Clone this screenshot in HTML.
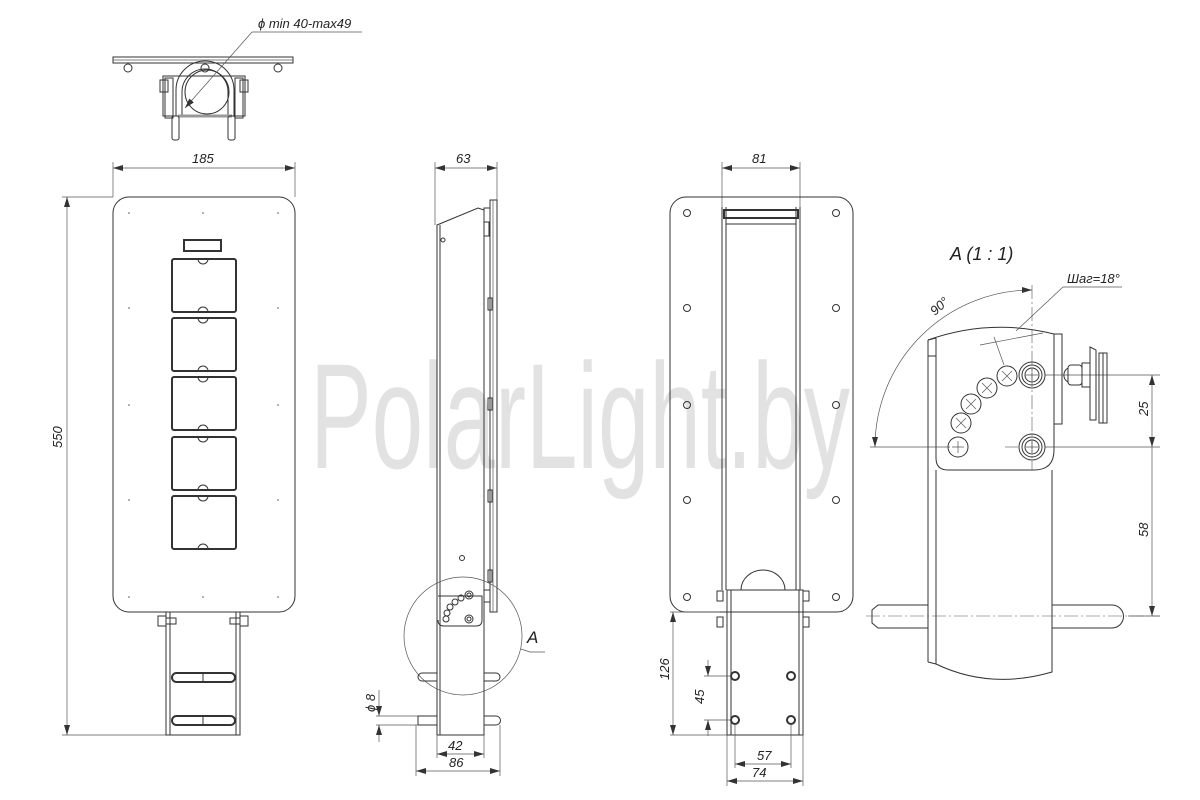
<!DOCTYPE html>
<html><head><meta charset="utf-8"><style>
html,body{margin:0;padding:0;background:#fff;}
svg{display:block;}
text{font-family:"Liberation Sans","DejaVu Sans",sans-serif;font-style:italic;fill:#222;}
.o{fill:none;stroke:#333;stroke-width:1;}
.t{fill:none;stroke:#333;stroke-width:2;}
.d{fill:none;stroke:#555;stroke-width:0.7;}
.c{fill:none;stroke:#555;stroke-width:0.6;stroke-dasharray:14 3 2 3;}
</style></head><body>
<svg width="1200" height="800" viewBox="0 0 1200 800" xmlns="http://www.w3.org/2000/svg">
<defs>
<marker id="a" viewBox="0 0 10 6" refX="10" refY="3" markerWidth="10" markerHeight="6" orient="auto-start-reverse" markerUnits="userSpaceOnUse"><path d="M0,0 L10,3 L0,6 z" fill="#333"/></marker>
</defs>

<!-- watermark -->
<text x="310" y="468" font-size="150" textLength="540" lengthAdjust="spacingAndGlyphs" style="font-style:normal;fill:#e2e2e2">PolarLight.by</text>

<!-- TOP VIEW -->
<g>
<rect x="113" y="57" width="180" height="6" class="o"/>
<line x1="113" y1="60" x2="293" y2="60" class="d"/>
<circle cx="128" cy="68" r="4" class="o"/><circle cx="205" cy="68" r="4" class="o"/><circle cx="278" cy="68" r="4" class="o"/>
<rect x="163" y="76" width="82" height="40" class="o"/>
<rect x="160" y="80" width="8" height="12" class="o"/><rect x="240" y="80" width="8" height="12" class="o"/>
<rect x="165" y="78" width="8" height="40" class="o"/><rect x="235" y="78" width="8" height="40" class="o"/>
<path d="M176,116 L176,90 A29,29 0 0 1 234,90 L234,116" class="o" stroke-width="1.5"/>
<path d="M182,116 L182,92 A23,23 0 0 1 228,92 L228,116" class="o"/>
<circle cx="207" cy="92" r="22" class="o"/>
<line x1="178" y1="116" x2="232" y2="116" stroke="#999" stroke-width="3"/>
<rect x="172" y="116" width="7" height="24" rx="2" class="o"/><rect x="228" y="116" width="7" height="24" rx="2" class="o"/>
<line x1="185" y1="108" x2="252" y2="32" class="d" marker-start="url(#a)"/>
<line x1="252" y1="32" x2="362" y2="32" class="d"/>
<text x="258" y="28" font-size="13">ϕ min 40-max49</text>
</g>

<!-- FRONT VIEW -->
<g>
<line x1="113" y1="197" x2="113" y2="162" class="d"/><line x1="295" y1="197" x2="295" y2="162" class="d"/>
<line x1="113" y1="168" x2="295" y2="168" class="d" marker-start="url(#a)" marker-end="url(#a)"/>
<text x="192" y="163" font-size="13">185</text>
<line x1="113" y1="197" x2="62" y2="197" class="d"/><line x1="166" y1="735" x2="62" y2="735" class="d"/>
<line x1="67" y1="197" x2="67" y2="735" class="d" marker-start="url(#a)" marker-end="url(#a)"/>
<text font-size="13" transform="translate(62,448) rotate(-90)">550</text>
<rect x="113" y="197" width="182" height="415" rx="16" class="o"/>
<g fill="#555"><circle cx="129" cy="213" r="0.8"/><circle cx="203" cy="213" r="0.8"/><circle cx="278" cy="213" r="0.8"/><circle cx="129" cy="308" r="0.8"/><circle cx="278" cy="308" r="0.8"/><circle cx="129" cy="405" r="0.8"/><circle cx="278" cy="405" r="0.8"/><circle cx="129" cy="500" r="0.8"/><circle cx="278" cy="500" r="0.8"/><circle cx="129" cy="597" r="0.8"/><circle cx="203" cy="597" r="0.8"/><circle cx="278" cy="597" r="0.8"/></g>
<rect x="184" y="240" width="37" height="11" class="t"/>
<g class="t">
<rect x="172" y="259" width="64" height="53" rx="2"/><rect x="172" y="318" width="64" height="53" rx="2"/><rect x="172" y="377" width="64" height="53" rx="2"/><rect x="172" y="437" width="64" height="53" rx="2"/><rect x="172" y="496" width="64" height="53" rx="2"/>
</g>
<g class="o"><path d="M198,259 a5,5 0 0 0 10,0"/><path d="M198,312 a5,5 0 0 1 10,0"/><path d="M198,318 a5,5 0 0 0 10,0"/><path d="M198,371 a5,5 0 0 1 10,0"/><path d="M198,377 a5,5 0 0 0 10,0"/><path d="M198,430 a5,5 0 0 1 10,0"/><path d="M198,437 a5,5 0 0 0 10,0"/><path d="M198,490 a5,5 0 0 1 10,0"/><path d="M198,496 a5,5 0 0 0 10,0"/><path d="M198,549 a5,5 0 0 1 10,0"/></g>
<rect x="166" y="612" width="74" height="123" class="o"/>
<line x1="170" y1="612" x2="170" y2="735" class="o"/><line x1="236" y1="612" x2="236" y2="735" class="o"/>
<rect x="158" y="616" width="8" height="10" class="o"/><rect x="166" y="618" width="10" height="6" class="o"/>
<rect x="240" y="616" width="8" height="10" class="o"/><rect x="230" y="618" width="10" height="6" class="o"/>
<rect x="172" y="673" width="63" height="9" rx="4.5" class="t" stroke-width="1.5"/><line x1="203" y1="673" x2="203" y2="682" class="o"/>
<rect x="172" y="716" width="63" height="9" rx="4.5" class="t" stroke-width="1.5"/><line x1="203" y1="716" x2="203" y2="725" class="o"/>
</g>

<!-- SIDE VIEW -->
<g>
<line x1="435" y1="225" x2="435" y2="162" class="d"/><line x1="497" y1="200" x2="497" y2="162" class="d"/>
<line x1="435" y1="168" x2="497" y2="168" class="d" marker-start="url(#a)" marker-end="url(#a)"/>
<text x="456" y="163" font-size="13">63</text>
<path d="M437,225 L478,208 L484,210 L484,735 L437,735 Z" class="o"/>
<line x1="440" y1="225" x2="440" y2="735" class="o"/>
<rect x="490" y="200" width="7" height="412" class="o"/>
<line x1="493" y1="200" x2="493" y2="612" class="d"/>
<rect x="484" y="208" width="6" height="14" class="o"/><rect x="484" y="222" width="5" height="14" class="o"/>
<rect x="488" y="298" width="4" height="12" class="o"/><rect x="488" y="398" width="4" height="12" class="o"/><rect x="488" y="490" width="4" height="12" class="o"/><rect x="488" y="570" width="4" height="12" class="o"/>
<rect x="484" y="590" width="6" height="12" class="o"/>
<circle cx="443" cy="240" r="2" class="o"/><circle cx="462" cy="558" r="2.5" class="o"/>
<path d="M438,596 L482,596 L482,620 Q482,626 476,626 L444,626 Q438,626 438,620" class="o"/>
<circle cx="469" cy="595" r="4" class="o"/><circle cx="469" cy="595" r="2" class="o"/>
<circle cx="469" cy="619" r="4" class="o"/><circle cx="469" cy="619" r="2" class="o"/>
<circle cx="461" cy="598" r="3" class="o"/><circle cx="455" cy="602" r="3" class="o"/><circle cx="450" cy="607" r="3" class="o"/><circle cx="447" cy="613" r="3" class="o"/><circle cx="446" cy="619" r="3" class="o"/>
<circle cx="463" cy="636" r="59" class="d"/>
<path d="M521,649 L530,652 L545,652" class="d"/>
<text x="527" y="643" font-size="17">A</text>
<path d="M437,673 L422,673 A4,4 0 0 0 422,681 L437,681" class="o"/>
<path d="M484,673 L496,673 A4,4 0 0 1 496,681 L484,681" class="o"/>
<path d="M437,716 L418,716 L418,725 L437,725" class="o"/>
<path d="M484,716 L496,716 A4.5,4.5 0 0 1 496,725 L484,725" class="o"/>
<line x1="376" y1="716" x2="418" y2="716" class="d"/><line x1="376" y1="725" x2="418" y2="725" class="d"/>
<line x1="379" y1="690" x2="379" y2="716" class="d" marker-end="url(#a)"/>
<line x1="379" y1="742" x2="379" y2="725" class="d" marker-end="url(#a)"/>
<text font-size="13" transform="translate(375,712) rotate(-90)">ϕ 8</text>
<line x1="437" y1="735" x2="437" y2="758" class="d"/><line x1="484" y1="735" x2="484" y2="758" class="d"/>
<line x1="437" y1="754" x2="484" y2="754" class="d" marker-start="url(#a)" marker-end="url(#a)"/>
<text x="448" y="750" font-size="13">42</text>
<line x1="416" y1="725" x2="416" y2="776" class="d"/><line x1="500" y1="725" x2="500" y2="776" class="d"/>
<line x1="416" y1="771" x2="500" y2="771" class="d" marker-start="url(#a)" marker-end="url(#a)"/>
<text x="449" y="767" font-size="13">86</text>
</g>

<!-- REAR VIEW -->
<g>
<line x1="722" y1="207" x2="722" y2="162" class="d"/><line x1="800" y1="207" x2="800" y2="162" class="d"/>
<line x1="722" y1="168" x2="800" y2="168" class="d" marker-start="url(#a)" marker-end="url(#a)"/>
<text x="752" y="163" font-size="13">81</text>
<rect x="670" y="197" width="183" height="415" rx="16" class="o"/>
<g class="o">
<circle cx="687" cy="213" r="3.5"/><circle cx="836" cy="213" r="3.5"/><circle cx="687" cy="308" r="3.5"/><circle cx="836" cy="308" r="3.5"/><circle cx="687" cy="405" r="3.5"/><circle cx="836" cy="405" r="3.5"/><circle cx="687" cy="500" r="3.5"/><circle cx="836" cy="500" r="3.5"/><circle cx="687" cy="597" r="3.5"/><circle cx="836" cy="597" r="3.5"/>
</g>
<line x1="722" y1="207" x2="722" y2="590" class="o"/><line x1="726" y1="207" x2="726" y2="590" class="o"/>
<line x1="800" y1="207" x2="800" y2="590" class="o"/><line x1="796" y1="207" x2="796" y2="590" class="o"/>
<rect x="724" y="210" width="74" height="8" class="t" stroke-width="1.5"/>
<line x1="726" y1="224" x2="796" y2="224" class="o"/>
<path d="M741,590 A22,20 0 0 1 785,590" class="o"/>
<rect x="727" y="590" width="76" height="145" class="o"/>
<line x1="731" y1="590" x2="731" y2="735" class="o"/><line x1="799" y1="590" x2="799" y2="735" class="o"/>
<rect x="717" y="591" width="6" height="10" class="o"/><rect x="717" y="617" width="6" height="10" class="o"/>
<rect x="803" y="591" width="6" height="10" class="o"/><rect x="803" y="617" width="6" height="10" class="o"/>
<g class="t" stroke-width="1.5"><circle cx="735" cy="676" r="4"/><circle cx="791" cy="676" r="4"/><circle cx="735" cy="720" r="4"/><circle cx="791" cy="720" r="4"/></g>
<line x1="670" y1="612" x2="720" y2="612" class="d"/><line x1="670" y1="735" x2="727" y2="735" class="d"/>
<line x1="673" y1="612" x2="673" y2="735" class="d" marker-start="url(#a)" marker-end="url(#a)"/>
<text font-size="13" transform="translate(669,680) rotate(-90)">126</text>
<line x1="704" y1="676" x2="731" y2="676" class="d"/><line x1="704" y1="720" x2="731" y2="720" class="d"/>
<line x1="708" y1="660" x2="708" y2="676" class="d" marker-end="url(#a)"/>
<line x1="708" y1="736" x2="708" y2="720" class="d" marker-end="url(#a)"/>
<text font-size="13" transform="translate(704,704) rotate(-90)">45</text>
<line x1="735" y1="724" x2="735" y2="768" class="d"/><line x1="791" y1="724" x2="791" y2="768" class="d"/>
<line x1="735" y1="764" x2="791" y2="764" class="d" marker-start="url(#a)" marker-end="url(#a)"/>
<text x="757" y="760" font-size="13">57</text>
<line x1="727" y1="735" x2="727" y2="786" class="d"/><line x1="803" y1="735" x2="803" y2="786" class="d"/>
<line x1="727" y1="781" x2="803" y2="781" class="d" marker-start="url(#a)" marker-end="url(#a)"/>
<text x="752" y="777" font-size="13">74</text>
</g>

<!-- DETAIL A -->
<g>
<text x="950" y="260" font-size="18">A (1 : 1)</text>
<path d="M928,340 Q990,318 1054,334 L1054,450 Q1054,470 1034,470 L948,470 Q936,470 936,458" class="o"/>
<line x1="928" y1="340" x2="936" y2="338" class="o"/>
<line x1="936" y1="338" x2="936" y2="458" class="o"/>
<line x1="928" y1="340" x2="928" y2="662" class="o"/>
<line x1="928" y1="356" x2="936" y2="356" class="o"/>
<rect x="1054" y="334" width="8" height="90" class="o"/>
<path d="M936,470 L936,664 Q990,690 1052,672 L1052,470" class="o"/>
<line x1="928" y1="662" x2="936" y2="664" class="o"/>
<path d="M928,605 L878,605 L872,610 L872,623 L878,628 L928,628" class="o"/>
<path d="M1052,605 L1112,605 A11.5,11.5 0 0 1 1112,628 L1052,628" class="o"/>
<line x1="866" y1="616" x2="1160" y2="616" class="c"/>
<g class="o">
<circle cx="1032" cy="375" r="13"/><circle cx="1032" cy="375" r="10"/><circle cx="1032" cy="375" r="7"/>
<circle cx="1032" cy="447" r="13"/><circle cx="1032" cy="447" r="10"/><circle cx="1032" cy="447" r="7"/>
</g>
<g class="o">
<circle cx="958" cy="447" r="10"/><circle cx="961" cy="423" r="10"/><circle cx="971" cy="404" r="10"/><circle cx="987" cy="388" r="10"/><circle cx="1007" cy="376" r="10"/>
</g>
<g class="d">
<path d="M952,447 h12 M958,441 v12"/>
<path d="M956,418 l10,10 M966,418 l-10,10"/><path d="M966,399 l10,10 M976,399 l-10,10"/><path d="M982,383 l10,10 M992,383 l-10,10"/><path d="M1002,371 l10,10 M1012,371 l-10,10"/>
<path d="M1026,375 h12 M1032,369 v12 M1026,447 h12 M1032,441 v12"/>
</g>
<line x1="1032" y1="285" x2="1032" y2="470" class="c"/>
<line x1="870" y1="447" x2="950" y2="447" class="d"/>
<line x1="1005" y1="447" x2="1018" y2="447" class="c"/>
<path d="M1045,375 L1160,375" class="d"/><path d="M1045,447 L1160,447" class="d"/><line x1="1128" y1="616" x2="1160" y2="616" class="d"/>
<path d="M1032,290 A157,157 0 0 0 875,447" class="d" marker-start="url(#a)" marker-end="url(#a)"/>
<text font-size="13" transform="translate(935,316) rotate(-42)">90°</text>
<line x1="980" y1="345" x2="1043" y2="333" class="d"/>
<line x1="994" y1="337" x2="1004" y2="365" class="d"/>
<line x1="1016" y1="331" x2="1063" y2="287" class="d"/>
<line x1="1063" y1="287" x2="1122" y2="287" class="d"/>
<text x="1067" y="283" font-size="13">Шаг=18°</text>
<rect x="1068" y="365" width="14" height="20" rx="3" class="o"/>
<path d="M1068,368 A8,8 0 0 0 1068,382" class="o"/>
<rect x="1082" y="363" width="8" height="24" class="o"/>
<path d="M1090,347 L1096,350 L1096,420 L1090,420 Z" class="o"/>
<rect x="1099" y="353" width="4" height="70" class="o"/><rect x="1103" y="353" width="4" height="70" class="o"/>
<line x1="1152" y1="375" x2="1152" y2="447" class="d" marker-start="url(#a)" marker-end="url(#a)"/>
<text font-size="13" transform="translate(1148,416) rotate(-90)">25</text>
<line x1="1152" y1="447" x2="1152" y2="616" class="d" marker-end="url(#a)"/>
<text font-size="13" transform="translate(1148,537) rotate(-90)">58</text>
</g>
</svg>
</body></html>
